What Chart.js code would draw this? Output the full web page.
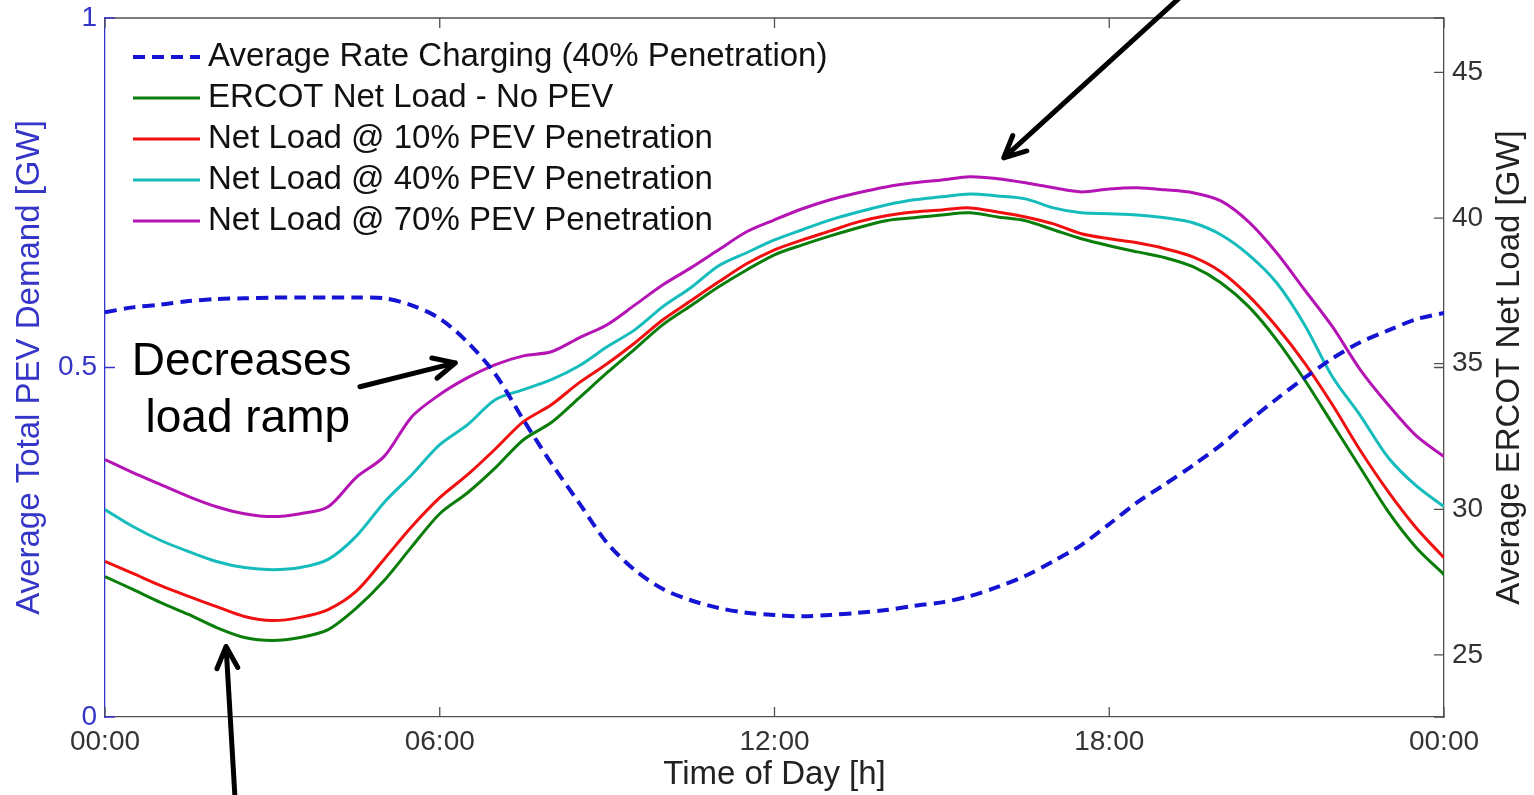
<!DOCTYPE html>
<html>
<head>
<meta charset="utf-8">
<title>PEV charging and ERCOT net load</title>
<script src="https://cdn.jsdelivr.net/npm/chart.js@4.4.1/dist/chart.umd.min.js"></script>
<style>
  html, body { margin: 0; padding: 0; background: #fff; }
</style>
</head>
<body>
<canvas id="loadChart" width="1534" height="795"></canvas>
<script>
// time of day in hours, every half hour
const hours = [0, 0.5, 1, 1.5, 2, 2.5, 3, 3.5, 4, 4.5, 5, 5.5, 6, 6.5, 7, 7.5, 8, 8.5, 9, 9.5,
    10, 10.5, 11, 11.5, 12, 12.5, 13, 13.5, 14, 14.5, 15, 15.5, 16, 16.5, 17, 17.5, 18, 18.5, 19, 19.5,
    20, 20.5, 21, 21.5, 22, 22.5, 23, 23.5, 24];

// left axis [GW]
const pevDemand = [0.579, 0.586, 0.590, 0.595, 0.598, 0.599, 0.600, 0.600, 0.600, 0.600,
    0.599, 0.589, 0.570, 0.536, 0.490, 0.425, 0.363, 0.306, 0.249, 0.210,
    0.183, 0.167, 0.156, 0.149, 0.146, 0.144, 0.146, 0.149, 0.153, 0.159,
    0.164, 0.173, 0.186, 0.202, 0.223, 0.246, 0.276, 0.307, 0.333, 0.360,
    0.389, 0.423, 0.455, 0.485, 0.513, 0.536, 0.553, 0.569, 0.578];

// right axis [GW]
const netLoadNoPev = [27.69, 27.25, 26.80, 26.39, 25.94, 25.60, 25.50, 25.60, 25.87, 26.60,
    27.55, 28.72, 29.85, 30.57, 31.43, 32.39, 32.98, 33.83, 34.69, 35.51,
    36.34, 36.99, 37.64, 38.22, 38.74, 39.08, 39.39, 39.67, 39.91, 40.01,
    40.11, 40.18, 40.04, 39.91, 39.60, 39.29, 39.05, 38.84, 38.64, 38.33,
    37.78, 36.96, 35.82, 34.45, 32.94, 31.43, 29.92, 28.69, 27.76];

const netLoad10 = [28.21, 27.80, 27.38, 27.01, 26.66, 26.32, 26.18, 26.29, 26.56, 27.18,
    28.28, 29.41, 30.40, 31.19, 32.08, 33.01, 33.59, 34.35, 35.00, 35.72,
    36.51, 37.16, 37.81, 38.43, 38.91, 39.25, 39.56, 39.87, 40.08, 40.21,
    40.28, 40.35, 40.21, 40.04, 39.80, 39.46, 39.29, 39.15, 38.95, 38.67,
    38.16, 37.33, 36.27, 35.03, 33.59, 32.02, 30.61, 29.37, 28.34];

const netLoad40 = [29.99, 29.41, 28.93, 28.55, 28.21, 28.00, 27.93, 28.00, 28.28, 29.07,
    30.23, 31.19, 32.22, 32.91, 33.77, 34.11, 34.45, 34.93, 35.58, 36.17,
    36.96, 37.61, 38.36, 38.81, 39.25, 39.60, 39.94, 40.21, 40.45, 40.63,
    40.73, 40.83, 40.76, 40.66, 40.35, 40.18, 40.15, 40.11, 40.01, 39.84,
    39.43, 38.74, 37.78, 36.34, 34.55, 33.22, 31.78, 30.81, 30.09];

const netLoad70 = [31.71, 31.26, 30.85, 30.44, 30.09, 29.85, 29.75, 29.85, 30.09, 31.09,
    31.81, 33.18, 33.94, 34.52, 34.97, 35.27, 35.41, 35.89, 36.34, 37.02,
    37.71, 38.29, 38.91, 39.53, 39.94, 40.32, 40.63, 40.87, 41.07, 41.21,
    41.31, 41.42, 41.35, 41.21, 41.04, 40.90, 41.00, 41.04, 40.97, 40.87,
    40.59, 39.87, 38.81, 37.54, 36.27, 34.79, 33.59, 32.53, 31.81];

const xTicks = [0, 6, 12, 18, 24];
const xTickLabels = ['00:00', '06:00', '12:00', '18:00', '00:00'];
const leftTicks = [0, 0.5, 1];
const leftTickLabels = ['0', '0.5', '1'];
const rightTicks = [25, 30, 35, 40, 45];

const FONT = 'Arial, "Liberation Sans", Helvetica, sans-serif';
const BLUE = '#3535c8';

// annotations, placed in data units (hours, right axis GW)
const notes = [
    { text: 'Decreases', h: 2.45, v: 34.62 },
    { text: 'load ramp', h: 2.56, v: 32.67 }
];
const arrows = [
    { from: [4.57, 34.21], to: [6.28, 35.03] },
    { from: [19.28, 47.6], to: [16.11, 42.07] },
    { from: [2.33, 20.1], to: [2.17, 25.29] }
];

function series(values) {
    return hours.map((h, i) => ({ x: h, y: values[i] }));
}

// no extra room above/below the plot for the end tick labels
function noEndPadding(s) {
    s.paddingTop = 0;
    s.paddingBottom = 0;
}

const frameTicks = {
    id: 'frameTicks',
    afterDraw(chart) {
        const { ctx, chartArea: a, scales: { x, yL, yR } } = chart;
        const len = 10;
        ctx.save();
        ctx.lineWidth = 1.3;
        ctx.strokeStyle = '#505050';
        ctx.beginPath();
        ctx.moveTo(a.left, a.top);
        ctx.lineTo(a.right, a.top);
        ctx.stroke();

        ctx.beginPath();
        xTicks.forEach(v => {
            const px = x.getPixelForValue(v);
            ctx.moveTo(px, a.bottom); ctx.lineTo(px, a.bottom - len);
            ctx.moveTo(px, a.top); ctx.lineTo(px, a.top + len);
        });
        rightTicks.forEach(v => {
            const py = yR.getPixelForValue(v);
            ctx.moveTo(a.right, py); ctx.lineTo(a.right - len, py);
        });
        leftTicks.forEach(v => {
            const py = yL.getPixelForValue(v);
            ctx.moveTo(a.right, py); ctx.lineTo(a.right - len, py);
        });
        ctx.stroke();

        ctx.strokeStyle = BLUE;
        ctx.beginPath();
        leftTicks.forEach(v => {
            const py = yL.getPixelForValue(v);
            ctx.moveTo(a.left, py); ctx.lineTo(a.left + len, py);
        });
        ctx.stroke();

        // right axis title reads bottom to top, like the left one
        ctx.fillStyle = '#222';
        ctx.font = '33px ' + FONT;
        ctx.textAlign = 'center';
        ctx.textBaseline = 'middle';
        ctx.translate(1510, (a.top + a.bottom) / 2);
        ctx.rotate(-Math.PI / 2);
        ctx.fillText('Average ERCOT Net Load [GW]', 0, 0);
        ctx.restore();
    }
};

const legendBox = {
    id: 'legendBox',
    afterDraw(chart) {
        const { ctx, chartArea: a } = chart;
        ctx.save();
        ctx.font = '33px ' + FONT;
        ctx.textBaseline = 'middle';
        ctx.fillStyle = '#111';
        chart.data.datasets.forEach((ds, i) => {
            const y = a.top + 39 + i * 41;
            ctx.strokeStyle = ds.borderColor;
            ctx.lineWidth = ds.borderWidth;
            ctx.setLineDash(ds.borderDash || []);
            ctx.beginPath();
            ctx.moveTo(a.left + 28, y);
            ctx.lineTo(a.left + 95, y);
            ctx.stroke();
            ctx.setLineDash([]);
            ctx.fillText(ds.label, a.left + 103, y);
        });
        ctx.restore();
    }
};

const annotations = {
    id: 'annotations',
    afterDraw(chart) {
        const { ctx, scales: { x, yR } } = chart;
        ctx.save();
        ctx.fillStyle = '#000';
        ctx.font = '46px ' + FONT;
        ctx.textAlign = 'center';
        ctx.textBaseline = 'alphabetic';
        notes.forEach(n => ctx.fillText(n.text, x.getPixelForValue(n.h), yR.getPixelForValue(n.v)));

        ctx.strokeStyle = '#000';
        ctx.lineWidth = 5;
        ctx.lineCap = 'round';
        ctx.lineJoin = 'round';
        arrows.forEach(ar => {
            const x0 = x.getPixelForValue(ar.from[0]), y0 = yR.getPixelForValue(ar.from[1]);
            const x1 = x.getPixelForValue(ar.to[0]), y1 = yR.getPixelForValue(ar.to[1]);
            const ang = Math.atan2(y1 - y0, x1 - x0);
            const head = 24, spread = 0.45;
            ctx.beginPath();
            ctx.moveTo(x0, y0);
            ctx.lineTo(x1, y1);
            ctx.moveTo(x1 - head * Math.cos(ang - spread), y1 - head * Math.sin(ang - spread));
            ctx.lineTo(x1, y1);
            ctx.lineTo(x1 - head * Math.cos(ang + spread), y1 - head * Math.sin(ang + spread));
            ctx.stroke();
        });
        ctx.restore();
    }
};

const ctx = document.getElementById('loadChart').getContext('2d');
new Chart(ctx, {
    type: 'line',
    data: {
        datasets: [{
            label: 'Average Rate Charging (40% Penetration)',
            data: series(pevDemand),
            yAxisID: 'yL',
            borderColor: '#1414d2',
            borderWidth: 4,
            borderDash: [12, 7]
        }, {
            label: 'ERCOT Net Load - No PEV',
            data: series(netLoadNoPev),
            yAxisID: 'yR',
            borderColor: '#0a7d0a',
            borderWidth: 3
        }, {
            label: 'Net Load @ 10% PEV Penetration',
            data: series(netLoad10),
            yAxisID: 'yR',
            borderColor: '#f01010',
            borderWidth: 3
        }, {
            label: 'Net Load @ 40% PEV Penetration',
            data: series(netLoad40),
            yAxisID: 'yR',
            borderColor: '#16bcbc',
            borderWidth: 3
        }, {
            label: 'Net Load @ 70% PEV Penetration',
            data: series(netLoad70),
            yAxisID: 'yR',
            borderColor: '#b414b4',
            borderWidth: 3
        }]
    },
    options: {
        responsive: false,
        animation: false,
        devicePixelRatio: 1,
        layout: { padding: { top: 18 } },
        elements: { point: { radius: 0 }, line: { tension: 0.3 } },
        plugins: { legend: { display: false }, tooltip: { enabled: false } },
        scales: {
            x: {
                type: 'linear',
                min: 0,
                max: 24,
                afterBuildTicks: s => { s.ticks = xTicks.map(v => ({ value: v })); },
                afterFit: s => { s.height = 78; },
                ticks: {
                    callback: (v, i) => xTickLabels[i],
                    color: '#333',
                    font: { family: FONT, size: 28 },
                    padding: 8,
                    maxRotation: 0,
                    autoSkip: false
                },
                grid: { display: false, drawTicks: false },
                border: { display: true, color: '#505050', width: 1.3 },
                title: {
                    display: true,
                    text: 'Time of Day [h]',
                    color: '#222',
                    font: { family: FONT, size: 33 },
                    padding: { top: 0, bottom: 0 }
                }
            },
            yL: {
                type: 'linear',
                position: 'left',
                min: 0,
                max: 1,
                afterBuildTicks: s => { s.ticks = leftTicks.map(v => ({ value: v })); },
                afterFit: s => { s.width = 105; noEndPadding(s); },
                ticks: {
                    callback: (v, i) => leftTickLabels[i],
                    color: BLUE,
                    font: { family: FONT, size: 28 },
                    padding: 8
                },
                grid: { display: false, drawTicks: false },
                border: { display: true, color: BLUE, width: 1.3 },
                title: {
                    display: true,
                    text: 'Average Total PEV Demand [GW]',
                    color: BLUE,
                    font: { family: FONT, size: 33 },
                    padding: { top: 10, bottom: 0 }
                }
            },
            yR: {
                type: 'linear',
                position: 'right',
                min: 22.87,
                max: 46.87,
                afterBuildTicks: s => { s.ticks = rightTicks.map(v => ({ value: v })); },
                afterFit: s => { s.width = 90; noEndPadding(s); },
                ticks: {
                    color: '#333',
                    font: { family: FONT, size: 28 },
                    padding: 8
                },
                grid: { display: false, drawTicks: false },
                border: { display: true, color: '#505050', width: 1.3 }
            }
        }
    },
    plugins: [frameTicks, legendBox, annotations]
});
</script>
</body>
</html>
